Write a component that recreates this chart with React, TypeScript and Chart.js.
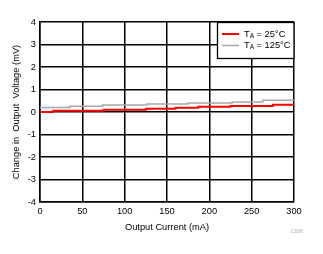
import React, { useEffect, useRef } from "react";
import { Chart, registerables } from "chart.js";

Chart.register(...registerables);

const redX = [0, 15, 75, 125, 160, 187, 225, 275, 300];
const redY = [0, 0.06, 0.1, 0.15, 0.19, 0.23, 0.27, 0.32, 0.32];
const grayX = [0, 35, 74, 126, 175, 227, 263, 300];
const grayY = [0.2, 0.26, 0.31, 0.36, 0.4, 0.44, 0.52, 0.52];
const seriesLabels = ["25°C", "125°C"];
const xTitle = "Output Current (mA)";
const yTitle = "Change in  Output  Voltage (mV)";

const FONT = "Liberation Sans, Arial, sans-serif";
const FS = 9.3;

const legendPlugin = {
  id: "customLegend",
  afterDraw(chart: any) {
    const ctx = chart.ctx;
    const ca = chart.chartArea;
    const x0 = ca.right - 77;
    const y0 = ca.top;
    ctx.save();
    ctx.fillStyle = "#fff";
    ctx.fillRect(x0, y0, ca.right - x0, 36);
    ctx.strokeStyle = "#000";
    ctx.lineWidth = 1.3;
    ctx.strokeRect(x0 + 0.5, y0 + 0.5, ca.right - x0 - 0.5, 36);
    const ds = chart.data.datasets;
    const rows = [12, 23.5];
    ds.forEach((d: any, i: number) => {
      const y = y0 + rows[i];
      ctx.strokeStyle = d.borderColor;
      ctx.lineWidth = d.borderWidth;
      ctx.beginPath();
      ctx.moveTo(x0 + 5, y);
      ctx.lineTo(x0 + 22, y);
      ctx.stroke();
      ctx.fillStyle = "#000";
      ctx.textBaseline = "middle";
      ctx.font = `${FS}px ${FONT}`;
      let tx = x0 + 27;
      ctx.fillText("T", tx, y);
      tx += ctx.measureText("T").width;
      ctx.font = `${FS * 0.7}px ${FONT}`;
      ctx.fillText("A", tx, y + 2);
      tx += ctx.measureText("A").width;
      ctx.font = `${FS}px ${FONT}`;
      ctx.fillText(" = " + seriesLabels[i], tx, y);
    });
    ctx.fillStyle = "#aaa";
    ctx.font = `5px ${FONT}`;
    ctx.textAlign = "center";
    ctx.fillText("C006", 297, 232);
    ctx.restore();
  },
};

export default function App() {
  const ref = useRef<HTMLCanvasElement>(null);
  useEffect(() => {
    const chart = new Chart(ref.current!, {
      type: "line",
      data: {
        datasets: [
          {
            label: "TA = 25°C",
            data: redX.map((x, i) => ({ x, y: redY[i] })),
            borderColor: "#ff0000",
            borderWidth: 2,
            pointRadius: 0,
            stepped: "before",
          },
          {
            label: "TA = 125°C",
            data: grayX.map((x, i) => ({ x, y: grayY[i] })),
            borderColor: "#a6a6a6",
            borderWidth: 1.5,
            pointRadius: 0,
            stepped: "before",
          },
        ],
      },
      options: {
        animation: false,
        responsive: false,
        layout: { padding: { top: 22, right: 29, left: 0, bottom: 0 } },
        plugins: { legend: { display: false }, tooltip: { enabled: false } },
        scales: {
          x: {
            type: "linear",
            min: 0,
            max: 300,
            afterFit: (s: any) => {
              s.height = 52;
            },
            ticks: { stepSize: 50, color: "#000", font: { family: FONT, size: FS }, padding: 4, maxRotation: 0 },
            grid: { color: "#000", drawTicks: false, lineWidth: 1.5 },
            border: { color: "#000", width: 1.5 },
            title: { display: true, text: xTitle, color: "#000", font: { family: FONT, size: FS }, padding: { top: 0, bottom: 21 } },
          },
          y: {
            min: -4,
            max: 4,
            afterFit: (s: any) => {
              s.width = 40;
            },
            ticks: { stepSize: 1, color: "#000", font: { family: FONT, size: FS }, padding: 4 },
            grid: { color: "#000", drawTicks: false, lineWidth: 1.5 },
            border: { color: "#000", width: 1.5 },
            title: { display: true, text: yTitle, color: "#000", font: { family: FONT, size: FS }, padding: { top: 11, bottom: 0 } },
          },
        },
      },
      plugins: [legendPlugin],
    });
    return () => chart.destroy();
  }, []);
  return (
    <div style={{ position: "absolute", left: 0, top: 0, width: 323, height: 254, background: "#fff" }}>
      <canvas ref={ref} width={323} height={254} />
    </div>
  );
}
